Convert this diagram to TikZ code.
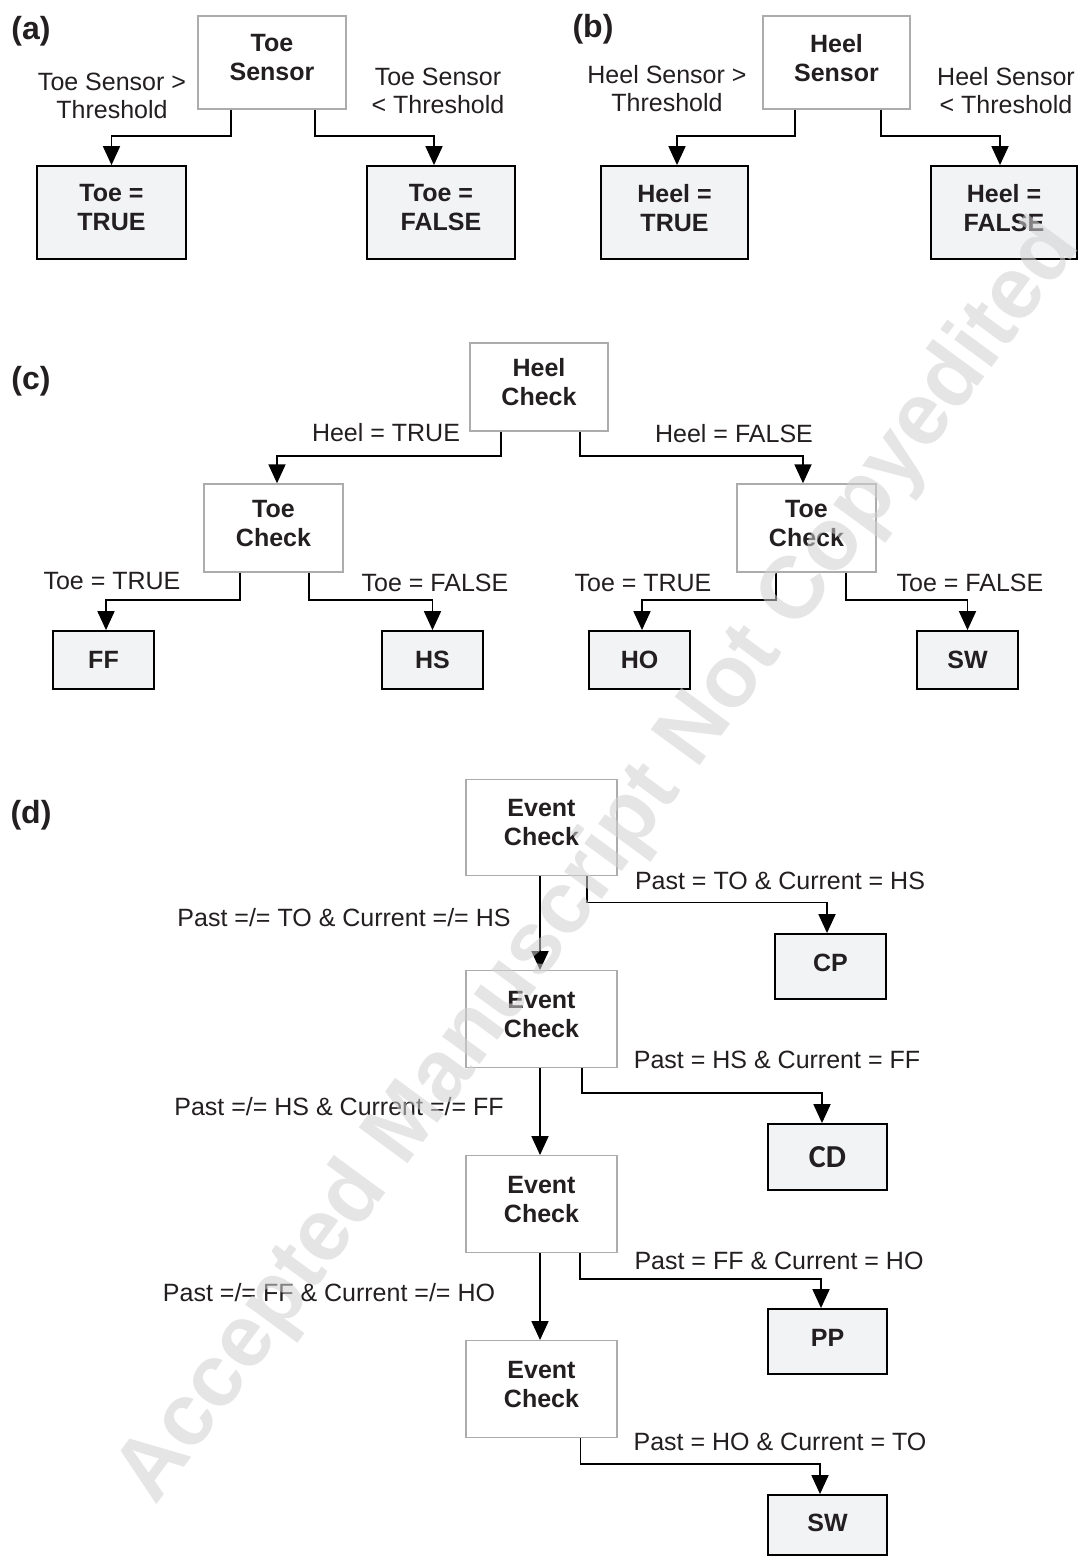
\documentclass[tikz,border=0pt]{standalone}
\usepackage{fontspec}
\setmainfont{Liberation Sans}
\newfontfamily\carlito{Carlito}
\usetikzlibrary{arrows.meta}
\definecolor{resfill}{RGB}{242,243,245}
\definecolor{decline}{RGB}{172,172,172}
\definecolor{ink}{RGB}{35,31,32}
\begin{document}
\begin{tikzpicture}[x=0.5pt,y=-0.5pt,
  decbox/.style={draw=decline, fill=white, line width=0.7pt, font=\fontsize{12.5}{14.5}\selectfont\bfseries, align=center, inner sep=0pt, text=ink},
  resbox/.style={draw=black, fill=resfill, line width=0.9pt, font=\fontsize{12.5}{14.5}\selectfont\bfseries, align=center, inner sep=0pt, text=ink},
  lbl/.style={font=\fontsize{12.5}{14}\selectfont, align=center, inner sep=0pt, text=ink},
  panel/.style={font=\fontsize{16}{19}\selectfont\bfseries, inner sep=0pt, text=ink},
  arr/.style={line width=0.9pt, draw=black, -{Triangle[length=9.5pt,width=8.5pt]}},
  wide/.style={minimum width=74pt, minimum height=46.5pt, text depth=5pt},
  chk/.style={minimum width=69pt, minimum height=44pt, text depth=5pt},
  small/.style={minimum width=50.5pt, minimum height=29pt},
  evt/.style={minimum width=75.5pt, minimum height=48.25pt, text depth=5pt}]
\useasboundingbox (0,0) rectangle (1078,1558);
\fill[white] (0,0) rectangle (1078,1558);

% ---------- (a)
\node[panel] (pa) at (31,31) {(a)};
\node[decbox, wide] (ts) at (272,62.5) {Toe\\Sensor};
\node[resbox, minimum width=74.5pt, minimum height=46.5pt, text depth=5pt] (tt) at (111.5,212.5) {Toe =\\TRUE};
\node[resbox, wide] (tf) at (441,212.5) {Toe =\\FALSE};
\node[lbl] (la1) at (112,96) {Toe Sensor >\\Threshold};
\node[lbl] (la2) at (438,91) {Toe Sensor\\< Threshold};
\draw[arr] ([xshift=-20.5pt]ts.south) -- ++(0,-13pt) -| (tt.north);
\draw[arr] ([xshift=21.5pt]ts.south) -- ++(0,-13pt) -| ([xshift=-3.5pt]tf.north);

% ---------- (b)
\node[panel] (pb) at (593,29) {(b)};
\node[decbox, minimum width=73.5pt, minimum height=46.5pt, text depth=5pt] (hs) at (836.5,62.5) {Heel\\Sensor};
\node[resbox, minimum width=73.5pt, minimum height=46.5pt, text depth=5pt] (ht) at (674.5,212.5) {Heel =\\TRUE};
\node[resbox, minimum width=73pt, minimum height=46.5pt, text depth=5pt] (hf) at (1004,212.5) {Heel =\\FALSE};
\node[lbl] (lb1) at (667,89) {Heel Sensor >\\Threshold};
\node[lbl] (lb2) at (1006,91) {Heel Sensor\\< Threshold};
\draw[arr] ([xshift=-20.75pt]hs.south) -- ++(0,-13pt) -| ([xshift=1.25pt]ht.north);
\draw[arr] ([xshift=22.25pt]hs.south) -- ++(0,-13pt) -| ([xshift=-2pt]hf.north);

% ---------- (c)
\node[panel] (pc) at (31,381) {(c)};
\node[decbox, chk] (hc) at (539,387) {Heel\\Check};
\node[decbox, chk, minimum width=69.5pt] (tcl) at (273.5,528) {Toe\\Check};
\node[decbox, chk, minimum width=69.5pt] (tcr) at (806.5,528) {Toe\\Check};
\node[resbox, small] (ff) at (103.5,660) {FF};
\node[resbox, small] (hsb) at (432.5,660) {HS};
\node[resbox, small] (ho) at (639.5,660) {HO};
\node[resbox, small] (swc) at (967.5,660) {SW};
\node[lbl] (lc1) at (386,433) {Heel = TRUE};
\node[lbl] (lc2) at (734,434) {Heel = FALSE};
\node[lbl] (lc3) at (112,581) {Toe = TRUE};
\node[lbl] (lc4) at (435,583) {Toe = FALSE};
\node[lbl] (lc5) at (643,583) {Toe = TRUE};
\node[lbl] (lc6) at (970,583) {Toe = FALSE};
\draw[arr] ([xshift=-19pt]hc.south) -- ++(0,-12pt) -| ([xshift=1.75pt]tcl.north);
\draw[arr] ([xshift=20.5pt]hc.south) -- ++(0,-12pt) -| ([xshift=-1.75pt]tcr.north);
\draw[arr] ([xshift=-16.75pt]tcl.south) -- ++(0,-13.5pt) -| ([xshift=1.25pt]ff.north);
\draw[arr] ([xshift=17.75pt]tcl.south) -- ++(0,-13.5pt) -| (hsb.north);
\draw[arr] ([xshift=-15.25pt]tcr.south) -- ++(0,-13.5pt) -| ([xshift=1.25pt]ho.north);
\draw[arr] ([xshift=19.75pt]tcr.south) -- ++(0,-13.5pt) -| (swc.north);

% ---------- (d)
\node[panel] (pd) at (31,815) {(d)};
\node[decbox, evt] (ec1) at (541.5,827.5) {Event\\Check};
\node[decbox, evt] (ec2) at (541.5,1019) {Event\\Check};
\node[decbox, evt] (ec3) at (541.5,1204) {Event\\Check};
\node[decbox, evt] (ec4) at (541.5,1389) {Event\\Check};
\node[resbox, minimum width=55.5pt, minimum height=32.5pt, text depth=4pt] (cp) at (830.5,966.5) {CP};
\node[resbox, minimum width=59.5pt, minimum height=33pt, font=\carlito\fontsize{16}{19}\selectfont\bfseries] (cd) at (827.5,1157) {CD};
\node[resbox, minimum width=59.5pt, minimum height=32.5pt, text depth=4pt] (pp) at (827.5,1341.5) {PP};
\node[resbox, minimum width=59.5pt, minimum height=30pt, text depth=2pt] (swd) at (827.5,1525) {SW};
\node[lbl] (ld1) at (780,881) {Past = TO \& Current = HS};
\node[lbl] (ld2) at (344,918) {Past =/= TO \& Current =/= HS};
\node[lbl] (ld3) at (777,1060) {Past = HS \& Current = FF};
\node[lbl] (ld4) at (339,1107) {Past =/= HS \& Current =/= FF};
\node[lbl] (ld5) at (779,1261) {Past = FF \& Current = HO};
\node[lbl] (ld6) at (329,1293) {Past =/= FF \& Current =/= HO};
\node[lbl] (ld7) at (780,1442) {Past = HO \& Current = TO};
\draw[arr] ([xshift=-0.75pt]ec1.south) -- ([xshift=-0.75pt]ec2.north);
\draw[arr] ([xshift=-0.75pt]ec2.south) -- ([xshift=-0.75pt]ec3.north);
\draw[arr] ([xshift=-0.75pt]ec3.south) -- ([xshift=-0.75pt]ec4.north);
\draw[arr] ([xshift=22.75pt]ec1.south) -- ++(0,-13pt) -| ([xshift=-1.75pt]cp.north);
\draw[arr] ([xshift=20.25pt]ec2.south) -- ++(0,-12.5pt) -| ([xshift=-2.75pt]cd.north);
\draw[arr] ([xshift=19.25pt]ec3.south) -- ++(0,-13pt) -| ([xshift=-3.25pt]pp.north);
\draw[arr] ([xshift=19.5pt]ec4.south) -- ++(0,-13pt) -| ([xshift=-3.75pt]swd.north);

% ---------- watermark
\node[font=\fontsize{44}{52}\selectfont\bfseries, text=black!18, text opacity=0.55, rotate=53.7, inner sep=0pt] (wm) at (600,863) {Accepted Manuscript Not Copyedited};
\end{tikzpicture}
\end{document}
